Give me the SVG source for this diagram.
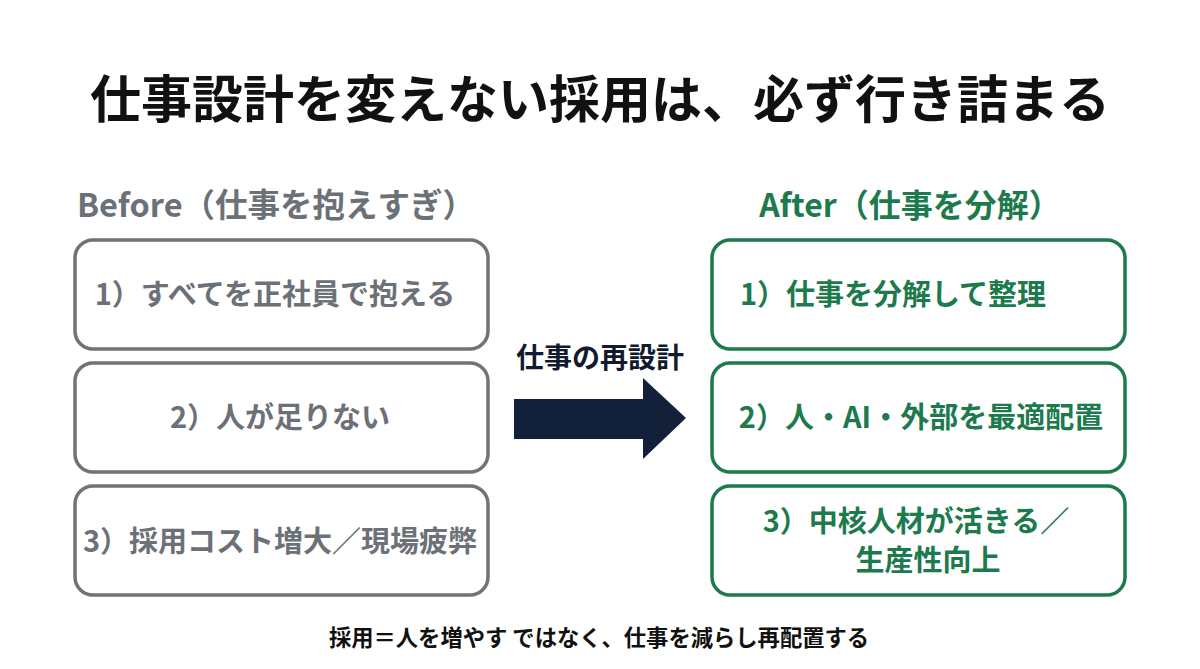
<svg xmlns="http://www.w3.org/2000/svg" width="1200" height="669" viewBox="0 0 1200 669">
<style>
text{font-family:"Noto Sans CJK JP","Noto Sans",sans-serif;font-weight:bold;text-anchor:middle}
.title{font-size:51px;fill:#111}
.hb{font-size:32.5px;fill:#6c7077}
.ha{font-size:32px;fill:#1d7a4d}
.bb{fill:#fff;stroke:#6f737a;stroke-width:3.5}
.ba{fill:#fff;stroke:#1d7a4d;stroke-width:3.5}
.tb{font-size:29px;fill:#6c7077}
.ta{font-size:29px;fill:#1d7a4d}
.lbl{font-size:28px;fill:#111a2e}
.foot{font-size:22.3px;fill:#111}
</style>
<rect width="1200" height="669" fill="#fff"/>
<text class="title" x="600" y="118">仕事設計を変えない採用は、必ず行き詰まる</text>
<text class="hb" x="276" y="217">Before（仕事を抱えすぎ）</text>
<text class="ha" x="910" y="217">After（仕事を分解）</text>
<g id="before1"><rect class="bb" x="75" y="240" width="413" height="109" rx="18"/><text class="tb" x="275" y="305">1）すべてを正社員で抱える</text></g>
<g id="before2"><rect class="bb" x="75" y="363" width="413" height="109" rx="18"/><text class="tb" x="280" y="428">2）人が足りない</text></g>
<g id="before3"><rect class="bb" x="75" y="486" width="413" height="109" rx="18"/><text class="tb" x="280" y="552">3）採用コスト増大／現場疲弊</text></g>
<g id="after1"><rect class="ba" x="712" y="240" width="413" height="109" rx="18"/><text class="ta" x="893" y="305">1）仕事を分解して整理</text></g>
<g id="after2"><rect class="ba" x="712" y="363" width="413" height="109" rx="18"/><text class="ta" x="921" y="428">2）人・AI・外部を最適配置</text></g>
<g id="after3"><rect class="ba" x="712" y="486" width="413" height="109" rx="18"/><text class="ta" x="916" y="532">3）中核人材が活きる／</text><text class="ta" x="928" y="571">生産性向上</text></g>
<g id="connectors">
<polygon points="514,399 643,399 643,378 686,418 643,459 643,439 514,439" fill="#132039"/>
<text class="lbl" x="600" y="368">仕事の再設計</text>
</g>
<text class="foot" x="599" y="646">採用＝人を増やす ではなく、仕事を減らし再配置する</text>
</svg>
